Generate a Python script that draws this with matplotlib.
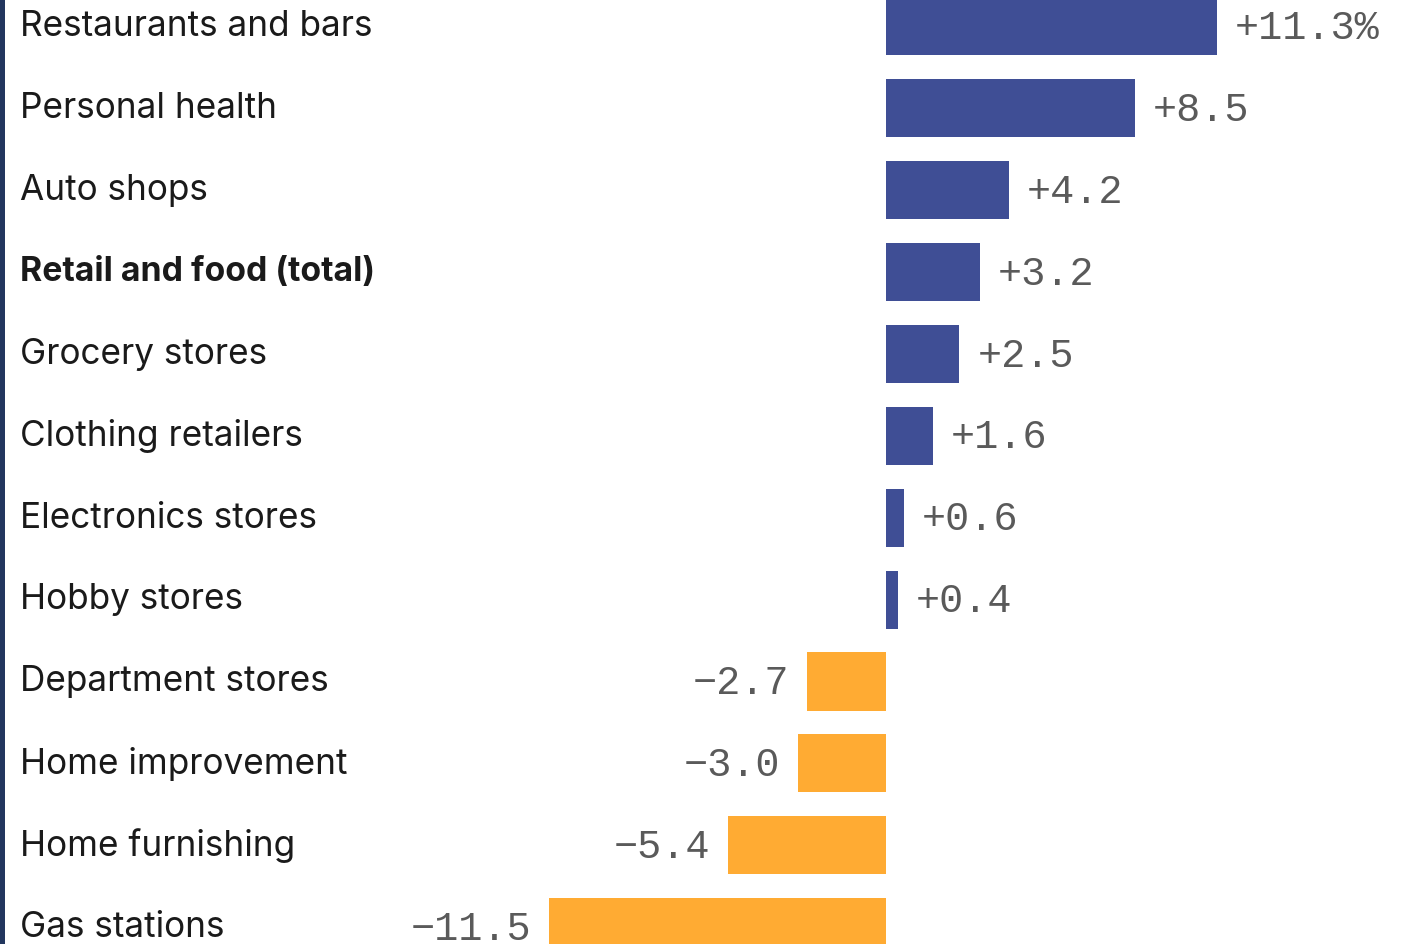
import matplotlib
matplotlib.use("Agg")
import matplotlib.pyplot as plt
from matplotlib.patches import Rectangle

categories = ["Restaurants and bars", "Personal health", "Auto shops",
              "Retail and food (total)", "Grocery stores", "Clothing retailers",
              "Electronics stores", "Hobby stores", "Department stores",
              "Home improvement", "Home furnishing", "Gas stations"]
values = [11.3, 8.5, 4.2, 3.2, 2.5, 1.6, 0.6, 0.4, -2.7, -3.0, -5.4, -11.5]
bold_category = "Retail and food (total)"

BLUE = "#3f4e95"
ORANGE = "#ffab33"

W, H = 1405, 945
fig = plt.figure(figsize=(W / 100, H / 100), dpi=100)
ax = fig.add_axes([0, 0, 1, 1])

px_per_unit = 29.3
zero_px = 886
row_px = 81.9
first_px = 27.3
ax.set_xlim(-zero_px / px_per_unit, (W - zero_px) / px_per_unit)
ax.set_ylim((H - first_px) / row_px, -first_px / row_px)
ax.axis("off")

ys = list(range(len(categories)))
colors = [BLUE if v >= 0 else ORANGE for v in values]
ax.barh(ys, values, height=0.71, color=colors, edgecolor="none")

for i, (cat, v) in enumerate(zip(categories, values)):
    is_bold = cat == bold_category
    ax.annotate(cat, xy=(0, i), xycoords=("axes fraction", "data"),
                xytext=(14.5, 0.5), textcoords="offset points",
                ha="left", va="center", fontsize=24.3 if is_bold else 25.3,
                family="Inter",
                fontweight="bold" if is_bold else "normal",
                color="#1a1a1a")
    txt = f"{v:+.1f}".replace("-", "\u2212")
    if i == 0:
        txt += "%"
    off = 13 if v >= 0 else -13
    ax.annotate(txt, xy=(v, i), xytext=(off, -0.5), textcoords="offset points",
                ha="left" if v >= 0 else "right", va="center",
                fontsize=29, family="Liberation Mono", color="#5a5a5a")

fig.add_artist(Rectangle((0, 0), 5 / W, 1, transform=fig.transFigure,
                         color="#22365e", lw=0))

fig.savefig("out.png", dpi=100, facecolor="white")
